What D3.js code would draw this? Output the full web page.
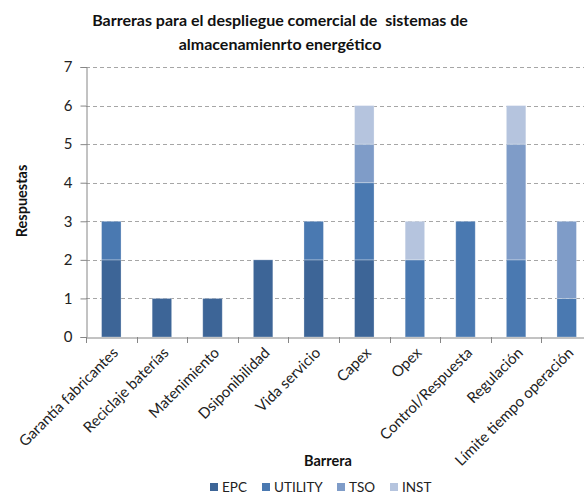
<!DOCTYPE html>
<html>
<head>
<meta charset="utf-8">
<script src="https://cdn.jsdelivr.net/npm/d3@7"></script>
<style>
  body { margin: 0; background: #fff; }
  svg { display: block; font-family: Lato, "Open Sans", sans-serif; }
</style>
</head>
<body>
<svg id="chart" width="584" height="495"></svg>
<script>
// data
var categories = ["Garantía fabricantes", "Reciclaje baterías", "Matenimiento", "Dsiponibilidad",
  "Vida servicio", "Capex", "Opex", "Control/Respuesta", "Regulación", "Límite tiempo operación"];
var seriesNames = ["EPC", "UTILITY", "TSO", "INST"];
var epc     = [2, 1, 1, 2, 2, 2, 0, 0, 0, 0];
var utility = [1, 0, 0, 0, 1, 2, 2, 3, 2, 1];
var tso     = [0, 0, 0, 0, 0, 1, 0, 0, 3, 2];
var inst    = [0, 0, 0, 0, 0, 1, 1, 0, 1, 0];
var yTicks = [0, 1, 2, 3, 4, 5, 6, 7];

var colors = ["#3d6597", "#4a79b1", "#7f9cc8", "#b5c4de"];

var svg = d3.select("#chart");
var plotLeft = 86, plotRight = 592, plotTop = 67, plotBottom = 337;

// build rows for the stack
var rows = categories.map(function (c, i) {
  return { cat: c, EPC: epc[i], UTILITY: utility[i], TSO: tso[i], INST: inst[i] };
});
var stacked = d3.stack().keys(seriesNames)(rows);

var x = d3.scaleBand().domain(categories).range([plotLeft, plotRight]).paddingInner(0.615).paddingOuter(0.3075);
var y = d3.scaleLinear().domain([0, 7]).range([plotBottom, plotTop]);
var color = d3.scaleOrdinal().domain(seriesNames).range(colors);

//GRID////////////////////////
svg.append("g")
  .selectAll("line")
  .data(yTicks.slice(1))
  .join("line")
  .attr("x1", plotLeft).attr("x2", 584)
  .attr("y1", function (d) { return Math.round(y(d)) + 0.5; })
  .attr("y2", function (d) { return Math.round(y(d)) + 0.5; })
  .attr("stroke", "#a6a6a6")
  .attr("stroke-dasharray", "4,3");

//BARS////////////////////////
svg.append("g")
  .selectAll("g")
  .data(stacked)
  .join("g")
  .attr("fill", function (d) { return color(d.key); })
  .selectAll("rect")
  .data(function (d) { return d; })
  .join("rect")
  .attr("x", function (d) { return x(d.data.cat); })
  .attr("width", x.bandwidth())
  .attr("y", function (d) { return y(d[1]); })
  .attr("height", function (d) { return y(d[0]) - y(d[1]); })
  .attr("stroke", "rgba(255,255,255,0.35)")
  .attr("stroke-width", 0.8);

//Y AXIS//////////////////////
var yAxis = svg.append("g")
  .attr("transform", "translate(" + (plotLeft + 0.5) + ",0)")
  .call(d3.axisLeft(y).tickValues(yTicks).tickSize(6).tickPadding(8).tickFormat(d3.format("d")));
yAxis.select(".domain").attr("stroke", "#868686");
yAxis.selectAll(".tick line").attr("stroke", "#868686");
yAxis.selectAll("text").attr("font-size", 15).attr("fill", "#222")
  .attr("font-family", "Lato, sans-serif");

//X AXIS//////////////////////
var xAxis = svg.append("g")
  .attr("transform", "translate(0," + (plotBottom + 0.5) + ")")
  .call(d3.axisBottom(x).tickSize(0).tickFormat(""));
xAxis.select(".domain").attr("stroke", "#868686");
xAxis.selectAll(".tick").remove();

// category boundary ticks
svg.append("g")
  .selectAll("line")
  .data(categories)
  .join("line")
  .attr("x1", function (d) { return Math.round(x(d) - x.step() * 0.3075) + 0.5; })
  .attr("x2", function (d) { return Math.round(x(d) - x.step() * 0.3075) + 0.5; })
  .attr("y1", plotBottom).attr("y2", plotBottom + 6)
  .attr("stroke", "#868686");

svg.append("g")
  .selectAll("text")
  .data(categories)
  .join("text")
  .attr("transform", function (d) {
    return "translate(" + (x(d) + x.bandwidth() / 2 + 4) + "," + (plotBottom + 13) + ") rotate(-45)";
  })
  .attr("text-anchor", "end")
  .attr("font-size", 15)
  .attr("fill", "#222")
  .attr("dy", "0.35em")
  .text(function (d) { return d; });

//TITLES//////////////////////
var title = svg.append("text")
  .attr("text-anchor", "middle")
  .attr("font-weight", "bold")
  .attr("font-size", 16)
  .attr("fill", "#111")
  .style("white-space", "pre");
title.append("tspan").attr("x", 280).attr("y", 26).text("Barreras para el despliegue comercial de  sistemas de");
title.append("tspan").attr("x", 280).attr("y", 50).text("almacenamienrto energético");

svg.append("text")
  .attr("transform", "translate(27,201) rotate(-90)")
  .attr("text-anchor", "middle")
  .attr("font-weight", "bold")
  .attr("font-size", 14.5)
  .attr("fill", "#111")
  .text("Respuestas");

svg.append("text")
  .attr("x", 328).attr("y", 466)
  .attr("text-anchor", "middle")
  .attr("font-weight", "bold")
  .attr("font-size", 14.5)
  .attr("fill", "#111")
  .text("Barrera");

//LEGEND//////////////////////
var legendX = [210, 262, 337, 390];
var legend = svg.append("g")
  .selectAll("g")
  .data(seriesNames)
  .join("g")
  .attr("transform", function (d, i) { return "translate(" + legendX[i] + ",483)"; });
legend.append("rect")
  .attr("width", 8).attr("height", 8)
  .attr("fill", function (d) { return color(d); });
legend.append("text")
  .attr("x", 12).attr("y", 4)
  .attr("dy", "0.35em")
  .attr("font-size", 13.5)
  .attr("fill", "#222")
  .text(function (d) { return d; });
</script>
</body>
</html>
